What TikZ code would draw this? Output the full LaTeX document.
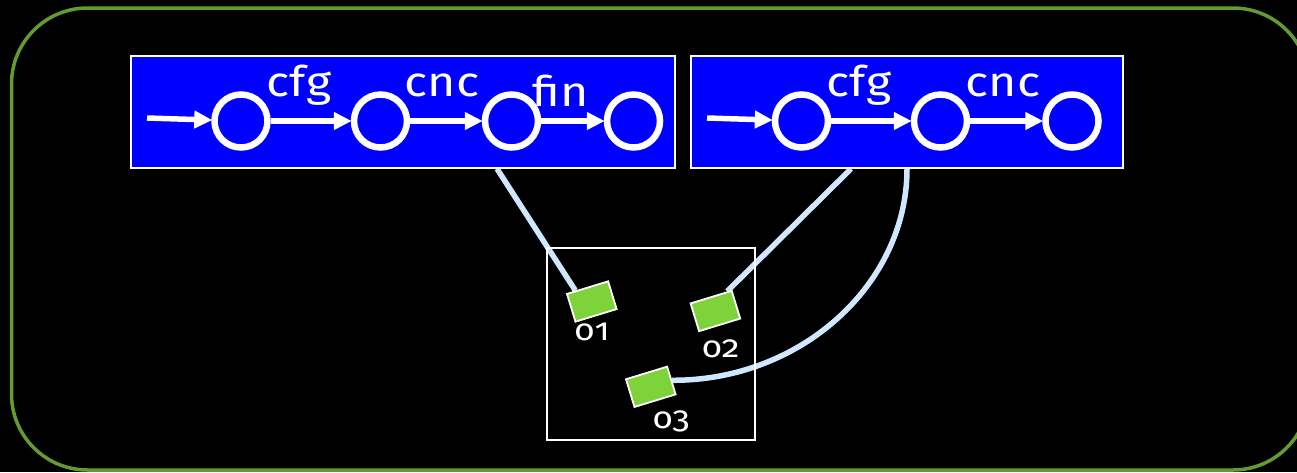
\documentclass[tikz,border=0pt]{standalone}
\usepackage{fontspec}
\setmainfont{Fira Sans}[Numbers=OldStyle]
\newfontfamily\widefont{Fira Sans}[Numbers=OldStyle,FakeStretch=1.15]
\usetikzlibrary{arrows.meta,calc}
\pgfdeclarelayer{bglayer}
\pgfdeclarelayer{linklayer}
\pgfsetlayers{bglayer,linklayer,main}
\definecolor{frameGreen}{RGB}{98,155,48}
\definecolor{boxBlue}{RGB}{0,0,255}
\definecolor{linkBlue}{RGB}{208,232,255}
\definecolor{objGreen}{RGB}{126,211,59}
\tikzset{
  autbox/.style={draw=white, line width=1.5pt, fill=boxBlue, minimum height=112pt, inner sep=0pt},
  state/.style={circle, draw=white, line width=6.5pt, minimum size=53pt, inner sep=0pt},
  trans/.style={draw=white, line width=5.5pt, -{Triangle[length=18pt,width=17pt]}, shorten >=-1pt},
  translab/.style={text=white, font=\widefont\fontsize{42}{42}\selectfont, anchor=base, inner sep=0pt},
  objlab/.style={text=white, font=\widefont\fontsize{31}{31}\selectfont, anchor=base, inner sep=0pt},
  objrect/.style={draw=white, line width=1.8pt, fill=objGreen, minimum width=43pt, minimum height=29pt, inner sep=0pt, rotate=17},
  link/.style={draw=linkBlue, line width=5.5pt},
}
\begin{document}
\begin{tikzpicture}[x=1pt,y=-1pt]
\useasboundingbox (0,0) rectangle (1297,472);
\begin{pgfonlayer}{bglayer}
\fill[black] (0,0) rectangle (1297,472);
\draw[frameGreen, line width=3.5pt, rounded corners=76pt] (11.5,8) rectangle (1309,470);
\end{pgfonlayer}

% automaton boxes
\node[autbox, minimum width=544pt] (boxA) at (403,112) {};
\node[autbox, minimum width=432pt] (boxB) at (907,112) {};

% states box A
\node[state] (a1) at (241,121) {};
\node[state] (a2) at (380.5,121) {};
\node[state] (a3) at (511.5,121) {};
\node[state] (a4) at (633.5,121) {};
\coordinate (ainit) at (147,118);
\draw[trans] (ainit) -- (a1);
\draw[trans] (a1) -- (a2);
\draw[trans] (a2) -- (a3);
\draw[trans] (a3) -- (a4);
\node[translab] (la1) at (299,96) {cfg};
\node[translab] (la2) at (442,96) {cnc};
\node[translab] (la3) at (561,106) {fin};

% states box B
\node[state] (b1) at (801.5,121) {};
\node[state] (b2) at (940.5,121) {};
\node[state] (b3) at (1072,121) {};
\coordinate (binit) at (707,118);
\draw[trans] (binit) -- (b1);
\draw[trans] (b1) -- (b2);
\draw[trans] (b2) -- (b3);
\node[translab] (lb1) at (859,96) {cfg};
\node[translab] (lb2) at (1003,96) {cnc};

% object box
\node[draw=white, line width=1.5pt, minimum width=208pt, minimum height=192pt, inner sep=0pt] (objbox) at (651,344) {};

% objects
\node[objrect] (o1) at (591.8,301.5) {};
\node[objrect] (o2) at (715.4,311) {};
\node[objrect] (o3) at (650.8,386.8) {};
\node[objlab] (lo1) at (592,340) {o1};
\node[objlab] (lo2) at (720.5,357) {o2};
\node[objlab] (lo3) at (671,428) {o3};

% links, beneath the objects
\begin{pgfonlayer}{linklayer}
\draw[link] ([xshift=94pt]boxA.south) -- ($(o1.north west)!0.22!(o1.north east)$);
\draw[link] ([xshift=-56pt]boxB.south) -- ($(o2.north west)!0.88!(o2.north east)$);
\draw[link] (boxB.south) .. controls (907,285) and (800,381) .. (o3.east);
\end{pgfonlayer}
\end{tikzpicture}
\end{document}
